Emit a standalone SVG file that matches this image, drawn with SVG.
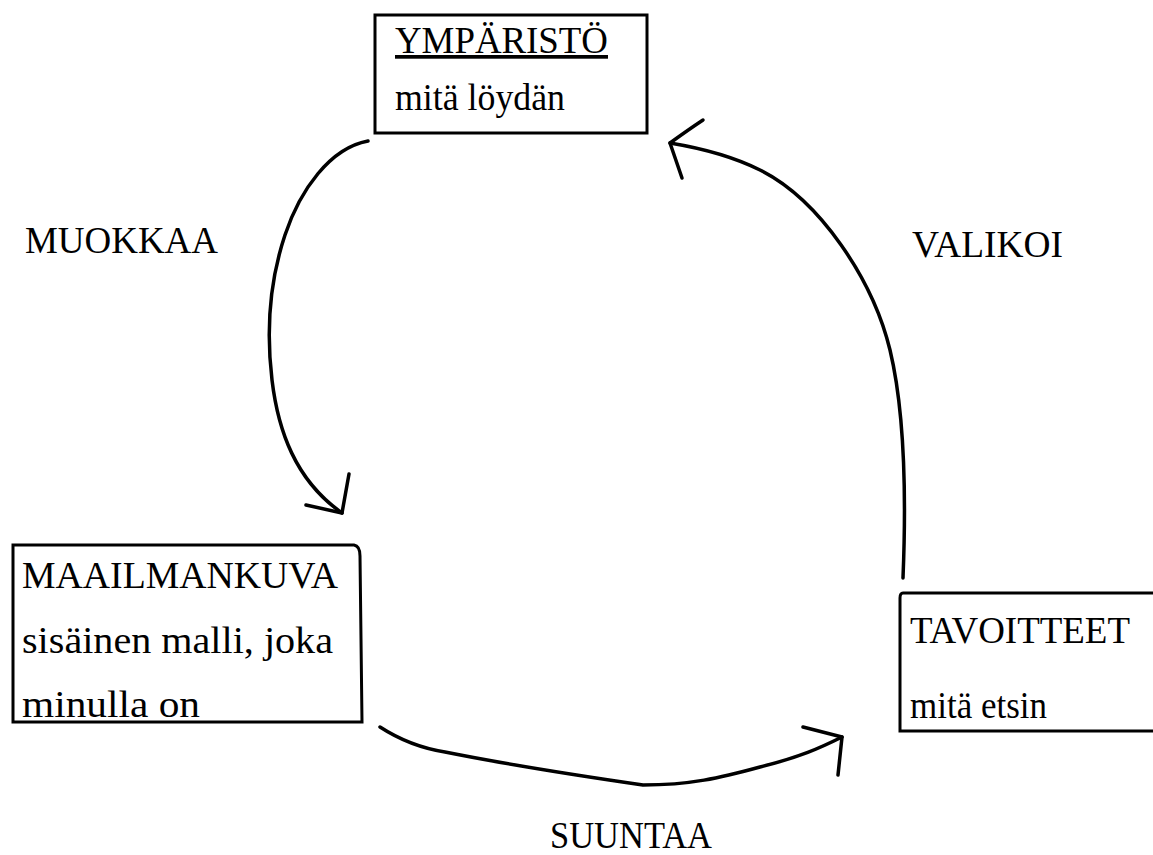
<svg xmlns="http://www.w3.org/2000/svg" width="1153" height="855" viewBox="0 0 1153 855">
<style>
.t{font-family:"Liberation Serif","Times New Roman",serif;font-size:37px;fill:#000}
.box{fill:none;stroke:#000;stroke-width:3}
.c{fill:none;stroke:#000;stroke-width:3.5;stroke-linecap:round;stroke-linejoin:round}
</style>
<rect width="1153" height="855" fill="#fff"/>
<g id="ymparisto">
<rect class="box" x="375" y="15" width="272" height="118"/>
<text class="t" x="395" y="53" textLength="213" lengthAdjust="spacingAndGlyphs" text-decoration="underline">YMPÄRISTÖ</text>
<text class="t" x="395" y="110" textLength="170" lengthAdjust="spacingAndGlyphs">mitä löydän</text>
</g>
<g id="maailmankuva">
<path class="box" d="M13,545 H354 Q360,546 360,556 L362,722 H13 Z"/>
<text class="t" x="22" y="588" textLength="316" lengthAdjust="spacingAndGlyphs">MAAILMANKUVA</text>
<text class="t" x="22" y="653" textLength="311" lengthAdjust="spacingAndGlyphs">sisäinen malli, joka</text>
<text class="t" x="22" y="717" textLength="178" lengthAdjust="spacingAndGlyphs">minulla on</text>
</g>
<g id="tavoitteet">
<path class="box" d="M1160,593 H903 Q900,593 900,598 V731 H1160"/>
<text class="t" x="910" y="643" textLength="220" lengthAdjust="spacingAndGlyphs">TAVOITTEET</text>
<text class="t" x="910" y="718" textLength="137" lengthAdjust="spacingAndGlyphs">mitä etsin</text>
</g>
<g id="labels">
<text class="t" x="25" y="253" textLength="193" lengthAdjust="spacingAndGlyphs">MUOKKAA</text>
<text class="t" x="912" y="257" textLength="151" lengthAdjust="spacingAndGlyphs">VALIKOI</text>
<text class="t" x="550" y="848" textLength="162" lengthAdjust="spacingAndGlyphs">SUUNTAA</text>
</g>
<g id="connectors">
<path class="c" d="M368,141 C330,148 300,190 285,235 C270,280 266,330 272,380 C278,430 295,480 342,513"/>
<path class="c" d="M306,505 L342,513 L349,474"/>
<path class="c" d="M903,578 C907,480 902,400 890,350 C873,280 820,200 760,170 C730,155 700,148 670,143"/>
<path class="c" d="M703,120 Q688,130 670,143 L682,178"/>
<path class="c" d="M380,727 C400,740 420,748 445,752 C510,765 560,773 643,785 C690,785 720,778 760,767 C800,757 820,748 842,737"/>
<path class="c" d="M803,727 L842,737 L838,775"/>
</g>
</svg>
